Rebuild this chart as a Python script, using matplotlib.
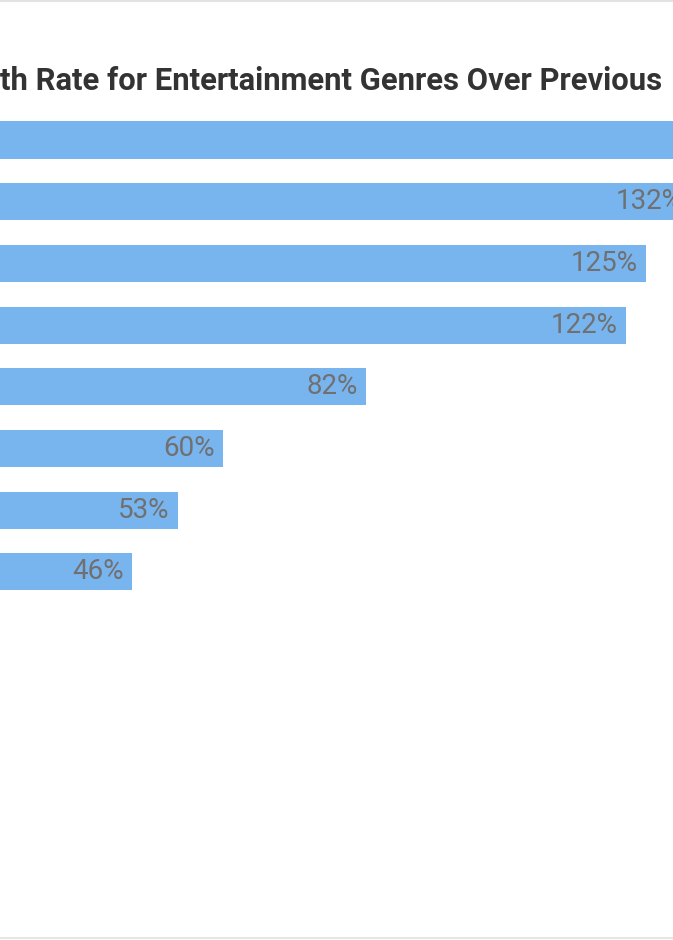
import matplotlib
matplotlib.use("Agg")
import matplotlib.pyplot as plt
from matplotlib.lines import Line2D

# Data (category names lie off-canvas in the cropped reference)
categories = ["Genre 1", "Genre 2", "Genre 3", "Genre 4",
              "Genre 5", "Genre 6", "Genre 7", "Genre 8"]
growth = [146, 132, 125, 122, 82, 60, 53, 46]
labels = ["146%", "132%", "125%", "122%", "82%", "60%", "53%", "46%"]
title = "th Rate for Entertainment Genres Over Previous"

plt.rcParams['font.family'] = ['Roboto', 'DejaVu Sans']

W, H = 673, 940
fig = plt.figure(figsize=(W / 100, H / 100), dpi=100)
fig.patch.set_facecolor("white")

ax = fig.add_axes([0, 0, 1, 1])
ypos = list(range(len(categories)))
ax.barh(ypos, growth, height=0.6, color="#78B4EE", edgecolor="none")

for y, v, lab in zip(ypos, growth, labels):
    ax.annotate(lab, xy=(v, y), xytext=(-8, 0), textcoords="offset pixels",
                ha="right", va="center", fontsize=20, color="#707070",
                annotation_clip=False)

px_per_unit = 6.5
zero_px = -167
ax.set_xlim((0 - zero_px) / px_per_unit, (W - zero_px) / px_per_unit)
row_px = 61.7
first_px = 140
ax.set_ylim((H - first_px) / row_px, -first_px / row_px)
ax.axis("off")

fig.text(0.0, 1 - 90 / H, title, ha="left", va="baseline",
         fontsize=22.3, fontweight="bold", color="#333333")

fig.add_artist(Line2D([0, 1], [1 - 1 / H, 1 - 1 / H], transform=fig.transFigure,
                      color="#e2e2e2", lw=1.5))
fig.add_artist(Line2D([0, 1], [2.5 / H, 2.5 / H], transform=fig.transFigure,
                      color="#e6e6e6", lw=1.5))

fig.savefig("out.png", dpi=100, facecolor="white")
